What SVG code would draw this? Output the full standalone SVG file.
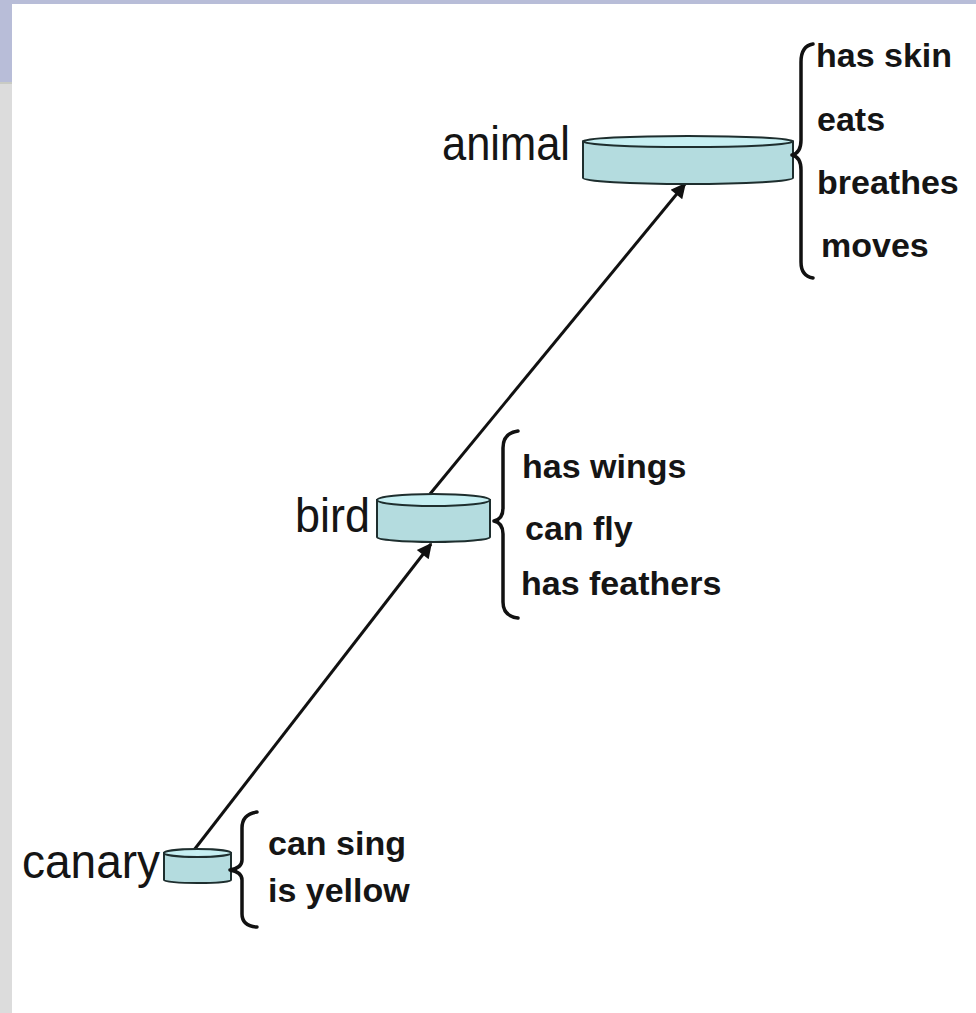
<svg xmlns="http://www.w3.org/2000/svg" width="976" height="1013" viewBox="0 0 976 1013">
<style>
.lbl{font-family:"Liberation Sans",Arial,sans-serif;font-size:48px;fill:#151515}
.prop{font-family:"Liberation Sans",Arial,sans-serif;font-size:34px;font-weight:bold;fill:#151515}
.body{fill:#b4dcdf;stroke:#1e2e2e;stroke-width:2}
.top{fill:#c6eff2;stroke:#1e2e2e;stroke-width:2}
.brace{fill:none;stroke:#111;stroke-width:3.5;stroke-linecap:round;stroke-linejoin:round}
.edge{stroke:#111;stroke-width:3;fill:none}
</style>
<defs>
<marker id="ah" viewBox="0 0 10 10" refX="9" refY="5" markerWidth="6" markerHeight="5" orient="auto" markerUnits="strokeWidth">
<path d="M0,0 L10,5 L0,10 z" fill="#111"/>
</marker>
</defs>
<rect x="0" y="0" width="976" height="1013" fill="#ffffff"/>
<rect x="0" y="0" width="976" height="4" fill="#b8bdd8"/>
<rect x="0" y="0" width="12" height="83" fill="#b8bdd8"/>
<rect x="0" y="83" width="12" height="930" fill="#dcdcdc"/>
<rect x="0" y="82" width="12" height="2" fill="#c9cbc4"/>

<g id="connectors">
<line class="edge" x1="194" y1="850" x2="431" y2="544" marker-end="url(#ah)"/>
<line class="edge" x1="430" y1="494" x2="685" y2="184" marker-end="url(#ah)"/>
</g>

<g id="animal">
<path class="body" d="M583,141.5 L583,178 A105,6 0 0 0 793,178 L793,141.5 Z"/>
<ellipse class="top" cx="688" cy="141.5" rx="105" ry="5.5"/>
<text class="lbl" x="442" y="160" textLength="128" lengthAdjust="spacingAndGlyphs">animal</text>
<path class="brace" d="M813,44 Q801,46 801,62 L801,140 Q801,153 792,155 Q801,157 801,170 L801,262 Q801,276 813,278"/>
<text class="prop" x="816" y="67">has skin</text>
<text class="prop" x="817" y="131">eats</text>
<text class="prop" x="817" y="194">breathes</text>
<text class="prop" x="821" y="257">moves</text>
</g>

<g id="bird">
<path class="body" d="M377,500 L377,537 A56.5,5 0 0 0 490,537 L490,500 Z"/>
<ellipse class="top" cx="433.5" cy="500" rx="56.5" ry="6"/>
<text class="lbl" x="295" y="532" textLength="75" lengthAdjust="spacingAndGlyphs">bird</text>
<path class="brace" d="M518,431 Q503,433 503,448 L503,508 Q503,519 494,521 Q503,523 503,534 L503,602 Q503,616 518,618"/>
<text class="prop" x="522" y="478">has wings</text>
<text class="prop" x="525" y="540">can fly</text>
<text class="prop" x="521" y="595">has feathers</text>
</g>

<g id="canary">
<path class="body" d="M164,853 L164,880 A33.5,3 0 0 0 231,880 L231,853 Z"/>
<ellipse class="top" cx="197.5" cy="853" rx="33.5" ry="4"/>
<text class="lbl" x="22" y="878" font-size="50" textLength="138" lengthAdjust="spacingAndGlyphs">canary</text>
<path class="brace" d="M257,812 Q242,814 242,828 L242,860 Q242,868 230,870 Q242,872 242,880 L242,914 Q242,926 257,927"/>
<text class="prop" x="268" y="855">can sing</text>
<text class="prop" x="268" y="902">is yellow</text>
</g>
</svg>
